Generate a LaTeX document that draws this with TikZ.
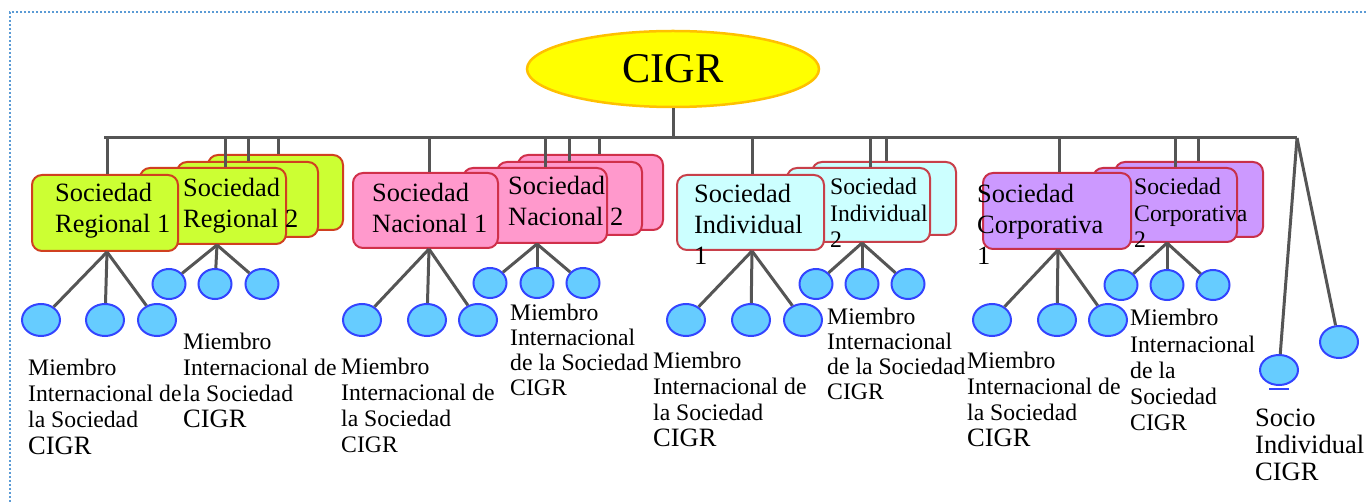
\documentclass[tikz,border=0pt]{standalone}
\usepackage{fontspec}
\setmainfont{Liberation Serif}
\usetikzlibrary{shapes.geometric}
\definecolor{regfill}{HTML}{CCFF33}
\definecolor{regdraw}{HTML}{D04020}
\definecolor{nacfill}{HTML}{FF99CC}
\definecolor{nacdraw}{HTML}{D0304A}
\definecolor{indfill}{HTML}{CCFFFF}
\definecolor{inddraw}{HTML}{C8404A}
\definecolor{corpfill}{HTML}{CC99FF}
\definecolor{corpdraw}{HTML}{C8304A}
\definecolor{leaffill}{HTML}{66CCFF}
\definecolor{leafdraw}{HTML}{3344FF}
\definecolor{linecol}{HTML}{555555}
\definecolor{topfill}{HTML}{FFFF00}
\definecolor{topdraw}{HTML}{FFC000}
\definecolor{framecol}{HTML}{5B9BD5}
\begin{document}
\begin{tikzpicture}[x=1pt,y=-1pt,
  sbox/.style={draw, line width=2pt, rounded corners=10pt, inner sep=0pt},
  reg/.style={sbox, fill=regfill, draw=regdraw},
  nac/.style={sbox, fill=nacfill, draw=nacdraw},
  ind/.style={sbox, fill=indfill, draw=inddraw},
  corp/.style={sbox, fill=corpfill, draw=corpdraw},
  leafbig/.style={ellipse, draw=leafdraw, fill=leaffill, line width=2pt, inner sep=0pt, minimum width=38pt, minimum height=32pt},
  leafsmall/.style={ellipse, draw=leafdraw, fill=leaffill, line width=2pt, inner sep=0pt, minimum width=33pt, minimum height=30pt},
  conn/.style={draw=linecol, line width=3pt},
  bigtxt/.style={anchor=base west, align=left, inner sep=0pt, font=\fontsize{26.4}{31}\selectfont},
  smalltxt/.style={anchor=base west, align=left, inner sep=0pt, font=\fontsize{23.7}{26.8}\selectfont},
  lbl/.style={anchor=base west, align=left, inner sep=0pt, font=\fontsize{23.7}{26.3}\selectfont},
  lbltight/.style={anchor=base west, align=left, inner sep=0pt, font=\fontsize{23.7}{25}\selectfont}
]
\useasboundingbox (0,0) rectangle (1366,502);
% dotted frame
\coordinate (fTL) at (10,12);
\coordinate (fTR) at (1366,12);
\coordinate (fBL) at (10,502);
\draw[framecol, line width=2pt, dash pattern=on 2pt off 2pt] (fTR) -- (fTL) -- (fBL);

% top ellipse
\node[ellipse, draw=topdraw, fill=topfill, line width=2.5pt, minimum width=292pt, minimum height=76pt, inner sep=0pt, font=\fontsize{42.3}{46}\selectfont] (cigr) at (673,69) {CIGR};

% bus
\coordinate (busL) at (104,138);
\coordinate (busR) at (1297,138);
\draw[conn] (cigr.south) -- (cigr.south |- busL);
\draw[conn] (busL) -- (busR);

% ---- stacked boxes (back first) ----
\node[reg, minimum width=135pt, minimum height=75pt] (r2c) at (275.5,192.5) {};
\node[reg, minimum width=141pt, minimum height=75pt] (r2b) at (247.5,199.5) {};
\node[reg, minimum width=146pt, minimum height=76pt] (r2a) at (213,206) {};
\node[reg, minimum width=146pt, minimum height=76pt] (r1) at (105,213) {};

\node[nac, minimum width=145pt, minimum height=75pt] (n2c) at (590.5,192.5) {};
\node[nac, minimum width=145pt, minimum height=73pt] (n2b) at (569.5,198.5) {};
\node[nac, minimum width=144pt, minimum height=75pt] (n2a) at (535,205.5) {};
\node[nac, minimum width=145pt, minimum height=75pt] (n1) at (425.5,210.5) {};

\node[ind, minimum width=144pt, minimum height=73pt] (i2b) at (884,198.5) {};
\node[ind, minimum width=143pt, minimum height=74pt] (i2a) at (858.5,205) {};
\node[ind, minimum width=147pt, minimum height=75pt] (i1) at (750.5,212.5) {};

\node[corp, minimum width=148pt, minimum height=75pt] (c2b) at (1189,199.5) {};
\node[corp, minimum width=144pt, minimum height=74pt] (c2a) at (1165,205) {};
\node[corp, minimum width=148pt, minimum height=76pt] (c1) at (1057,211) {};

% drops from bus
\coordinate (dr1) at (107,138);
\coordinate (dr2a) at (225,138);
\coordinate (dr2b) at (248,138);
\coordinate (dr2c) at (278,138);
\coordinate (dn1) at (429,138);
\coordinate (dn2a) at (545,138);
\coordinate (dn2b) at (569,138);
\coordinate (dn2c) at (599,138);
\coordinate (di1) at (752,138);
\coordinate (di2a) at (870,138);
\coordinate (di2b) at (886,138);
\coordinate (dc1) at (1059,138);
\coordinate (dc2a) at (1175,138);
\coordinate (dc2b) at (1198,138);
\draw[conn] (dr1) -- (dr1 |- r1.north);
\draw[conn] (dr2a) -- (dr2a |- r2a.north);
\draw[conn] (dr2b) -- (dr2b |- r2b.north);
\draw[conn] (dr2c) -- (dr2c |- r2c.north);
\draw[conn] (dn1) -- (dn1 |- n1.north);
\draw[conn] (dn2a) -- (dn2a |- n2a.north);
\draw[conn] (dn2b) -- (dn2b |- n2b.north);
\draw[conn] (dn2c) -- (dn2c |- n2c.north);
\draw[conn] (di1) -- (di1 |- i1.north);
\draw[conn] (di2a) -- (di2a |- i2a.north);
\draw[conn] (di2b) -- (di2b |- i2b.north);
\draw[conn] (dc1) -- (dc1 |- c1.north);
\draw[conn] (dc2a) -- (dc2a |- c2a.north);
\draw[conn] (dc2b) -- (dc2b |- c2b.north);

% ---- leaves ----
\node[leafbig] (r1x) at (41,320) {};
\node[leafbig] (r1y) at (105,320) {};
\node[leafbig] (r1z) at (157,320) {};
\node[leafsmall] (r2x) at (169,284) {};
\node[leafsmall] (r2y) at (215,284) {};
\node[leafsmall] (r2z) at (262,284) {};

\node[leafbig] (n1x) at (362,320) {};
\node[leafbig] (n1y) at (427,320) {};
\node[leafbig] (n1z) at (478,320) {};
\node[leafsmall] (n2x) at (490,283) {};
\node[leafsmall] (n2y) at (537,283) {};
\node[leafsmall] (n2z) at (583,283) {};

\node[leafbig] (i1x) at (686,320) {};
\node[leafbig] (i1y) at (751,320) {};
\node[leafbig] (i1z) at (803,320) {};
\node[leafsmall] (i2x) at (816,284) {};
\node[leafsmall] (i2y) at (862,284) {};
\node[leafsmall] (i2z) at (908,284) {};

\node[leafbig] (c1x) at (992,320) {};
\node[leafbig] (c1y) at (1057,320) {};
\node[leafbig] (c1z) at (1108,320) {};
\node[leafsmall] (c2x) at (1121,285) {};
\node[leafsmall] (c2y) at (1167,285) {};
\node[leafsmall] (c2z) at (1213,285) {};

\node[leafbig, minimum height=30pt] (s1) at (1279,370) {};
\node[leafbig] (s2) at (1339,342) {};

% ---- child connectors ----
\foreach \p/\dx/\k in {r1/2/r1, r2a/4/r2, n1/3.5/n1, n2a/2/n2, i1/1.5/i1, i2a/3.5/i2, c1/1/c1, c2a/2/c2}{
  \draw[conn] ([xshift=\dx pt]\p.south) -- (\k x);
  \draw[conn] ([xshift=\dx pt]\p.south) -- (\k y);
  \draw[conn] ([xshift=\dx pt]\p.south) -- (\k z);
}
\draw[conn] (busR) -- (s1);
\draw[conn] (busR) -- (s2);
\draw[leafdraw, line width=2pt] ([shift={(-10,3)}]s1.south) -- ([shift={(10,3)}]s1.south);

% ---- box texts (anchored at the baseline of the last line) ----
\node[bigtxt] (r1t) at (55,233) {Sociedad\\Regional 1};
\node[bigtxt] (r2t) at (183,228) {Sociedad\\Regional 2};
\node[bigtxt] (n1t) at (372,233) {Sociedad\\Nacional 1};
\node[bigtxt] (n2t) at (508,226) {Sociedad\\Nacional 2};
\node[bigtxt] (i1t) at (694,265) {Sociedad\\Individual\\1};
\node[smalltxt] (i2t) at (830,248) {Sociedad\\Individual\\2};
\node[bigtxt] (c1t) at (977,265) {Sociedad\\Corporativa\\1};
\node[smalltxt] (c2t) at (1134,248) {Sociedad\\Corporativa\\2};

% ---- member labels (anchored at the baseline of the last line) ----
\node[lbl] (l1) at (28,454) {Miembro\\Internacional de\\la Sociedad\\{\fontsize{26.5}{26.3}\selectfont CIGR}};
\node[lbl] (l2) at (183,428) {Miembro\\Internacional de\\la Sociedad\\{\fontsize{26.5}{26.3}\selectfont CIGR}};
\node[lbl] (l3) at (341,453) {Miembro\\Internacional de\\la Sociedad\\CIGR};
\node[lbltight] (l4) at (510,396) {Miembro\\Internacional\\de la Sociedad\\CIGR};
\node[lbl] (l5) at (653,447) {Miembro\\Internacional de\\la Sociedad\\{\fontsize{26.5}{26.3}\selectfont CIGR}};
\node[lbltight] (l6) at (827,400) {Miembro\\Internacional\\de la Sociedad\\CIGR};
\node[lbl] (l7) at (967,447) {Miembro\\Internacional de\\la Sociedad\\{\fontsize{26.5}{26.3}\selectfont CIGR}};
\node[lbl] (l8) at (1130,431) {Miembro\\Internacional\\de la\\Sociedad\\CIGR};
\node[anchor=base west, align=left, inner sep=0pt, font=\fontsize{26.5}{27}\selectfont] (l9) at (1255,480) {Socio\\Individual\\CIGR};
\end{tikzpicture}
\end{document}
